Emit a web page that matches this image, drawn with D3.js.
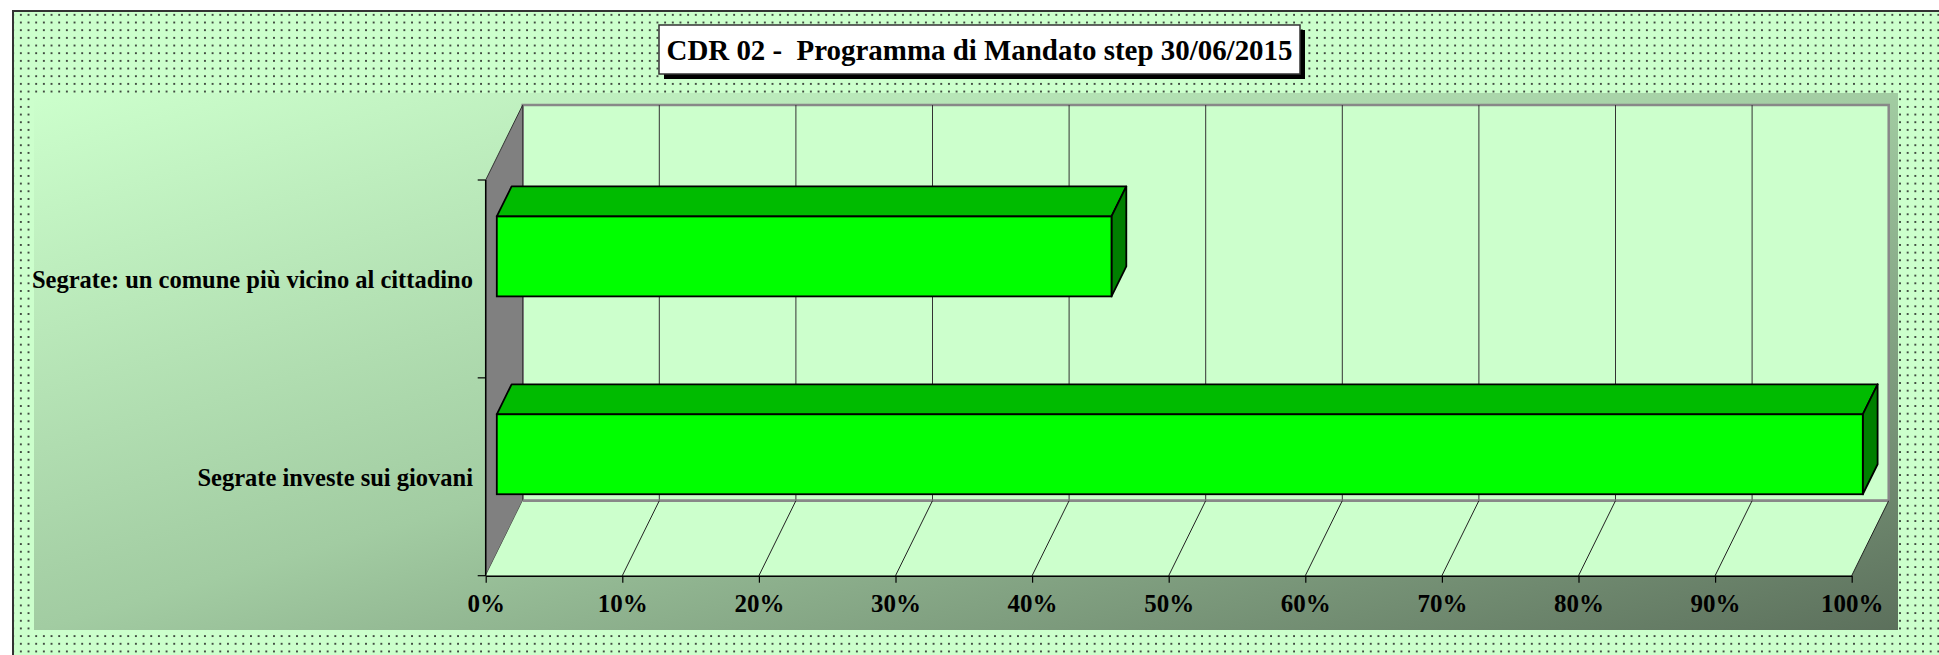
<!DOCTYPE html>
<html>
<head>
<meta charset="utf-8">
<script src="https://cdn.jsdelivr.net/npm/d3@7"></script>
<style>
  body { margin: 0; background: #fff; }
  text { font-family: "Liberation Serif", "Times New Roman", serif; font-weight: bold; }
</style>
</head>
<body>
<div id="chart"></div>
<script>
// data
var titleText = "CDR 02 -  Programma di Mandato step 30/06/2015";
var categories = ["Segrate investe sui giovani", "Segrate: un comune più vicino al cittadino"];
var values = [100, 45];
var tickValues = [0, 10, 20, 30, 40, 50, 60, 70, 80, 90, 100];

var svgWidth = 1939;
var svgHeight = 655;

// 3d depth offset of the floor / walls
var DX = 37, DY = -75;
// bar sits between these depth fractions
var barFront = 0.3, barBack = 0.7;

var svg = d3.select("#chart")
  .append("svg")
  .attr("width", svgWidth)
  .attr("height", svgHeight);

var defs = svg.append("defs");

// dotted background
var pat = defs.append("pattern")
  .attr("id", "dots")
  .attr("patternUnits", "userSpaceOnUse")
  .attr("x", 17).attr("y", 11)
  .attr("width", 7.67).attr("height", 7.67);
pat.append("rect").attr("width", 7.67).attr("height", 7.67).attr("fill", "#ccffcc");
pat.append("rect").attr("x", 3).attr("y", 3).attr("width", 1.7).attr("height", 1.7).attr("fill", "#1a1a1a");

var grad = defs.append("linearGradient")
  .attr("id", "plotGrad")
  .attr("x1", 0).attr("y1", 0).attr("x2", 1).attr("y2", 1);
grad.append("stop").attr("offset", 0).attr("stop-color", "#ccffcc");
grad.append("stop").attr("offset", 0.5).attr("stop-color", "#a2cca2");
grad.append("stop").attr("offset", 1).attr("stop-color", "#5c705c");

// chart area
svg.append("rect")
  .attr("x", 13).attr("y", 11)
  .attr("width", 1960).attr("height", 680)
  .attr("fill", "url(#dots)")
  .attr("stroke", "#333")
  .attr("stroke-width", 2);

// plot area
svg.append("rect")
  .attr("x", 34).attr("y", 93)
  .attr("width", 1864).attr("height", 537)
  .attr("fill", "url(#plotGrad)");

// scales
var x = d3.scaleLinear()
  .domain([0, 100])
  .range([485.7, 1851.7]);

var y = d3.scaleBand()
  .domain(categories)
  .range([575.7, 180])
  .paddingInner(0.596)
  .paddingOuter(0.298);

var y0 = y.range()[0], y1 = y.range()[1];

// back wall
svg.append("rect")
  .attr("x", x(0) + DX)
  .attr("y", y1 + DY)
  .attr("width", x(100) - x(0))
  .attr("height", y0 - y1)
  .attr("fill", "#ccffcc")
  .attr("stroke", "#888")
  .attr("stroke-width", 2.5);

svg.append("g")
  .selectAll("line")
  .data(tickValues.slice(1, -1))
  .enter()
  .append("line")
  .attr("x1", d => x(d) + DX)
  .attr("x2", d => x(d) + DX)
  .attr("y1", y1 + DY)
  .attr("y2", y0 + DY)
  .attr("stroke", "#333")
  .attr("stroke-width", 1);

// side wall
svg.append("polygon")
  .attr("points", [[x(0), y1], [x(0) + DX, y1 + DY], [x(0) + DX, y0 + DY], [x(0), y0]].join(" "))
  .attr("fill", "#808080")
  .attr("stroke", "#333")
  .attr("stroke-width", 1);

// floor
svg.append("polygon")
  .attr("points", [[x(0), y0], [x(100), y0], [x(100) + DX, y0 + DY], [x(0) + DX, y0 + DY]].join(" "))
  .attr("fill", "#ccffcc");

svg.append("line")
  .attr("x1", x(0) + DX).attr("x2", x(100) + DX)
  .attr("y1", y0 + DY).attr("y2", y0 + DY)
  .attr("stroke", "#888")
  .attr("stroke-width", 2.5);

svg.append("g")
  .selectAll("line")
  .data(tickValues.slice(1))
  .enter()
  .append("line")
  .attr("x1", d => x(d))
  .attr("x2", d => x(d) + DX)
  .attr("y1", y0)
  .attr("y2", y0 + DY)
  .attr("stroke", "#222")
  .attr("stroke-width", 1);

// x axis
var xAxis = d3.axisBottom(x)
  .tickValues(tickValues)
  .tickFormat(d => d + "%")
  .tickSize(7)
  .tickSizeOuter(0)
  .tickPadding(12);

var xg = svg.append("g")
  .attr("transform", `translate(0, ${y0})`)
  .call(xAxis);
xg.select(".domain").attr("stroke", "#000").attr("stroke-width", 1.5);
xg.selectAll(".tick line").attr("stroke", "#000").attr("stroke-width", 1.2);
xg.selectAll(".tick text")
  .attr("font-size", 25)
  .attr("font-family", "Liberation Serif, Times New Roman, serif")
  .attr("font-weight", "bold")
  .attr("fill", "#000");

// y axis line and boundary ticks
svg.append("line")
  .attr("x1", x(0)).attr("x2", x(0))
  .attr("y1", y1).attr("y2", y0)
  .attr("stroke", "#000")
  .attr("stroke-width", 1.5);

svg.append("g")
  .selectAll("line")
  .data(d3.range(categories.length + 1))
  .enter()
  .append("line")
  .attr("x1", x(0) - 8)
  .attr("x2", x(0))
  .attr("y1", i => y0 - i * y.step())
  .attr("y2", i => y0 - i * y.step())
  .attr("stroke", "#000")
  .attr("stroke-width", 1.2);

// bars
var barData = categories.map((c, i) => ({ cat: c, value: values[i] }));
var fdx = barFront * DX, fdy = barFront * DY;
var ddx = (barBack - barFront) * DX, ddy = (barBack - barFront) * DY;

var bars = svg.append("g")
  .selectAll("g")
  .data(barData)
  .enter()
  .append("g");

// top face
bars.append("polygon")
  .attr("points", d => {
    var bx0 = x(0) + fdx, bx1 = x(d.value) + fdx, by = y(d.cat) + fdy;
    return [[bx0, by], [bx1, by], [bx1 + ddx, by + ddy], [bx0 + ddx, by + ddy]].join(" ");
  })
  .attr("fill", "#00bb00")
  .attr("stroke", "#000")
  .attr("stroke-width", 1.8)
  .attr("stroke-linejoin", "round");

// right face
bars.append("polygon")
  .attr("points", d => {
    var bx1 = x(d.value) + fdx, by = y(d.cat) + fdy, h = y.bandwidth();
    return [[bx1, by], [bx1 + ddx, by + ddy], [bx1 + ddx, by + h + ddy], [bx1, by + h]].join(" ");
  })
  .attr("fill", "#007f00")
  .attr("stroke", "#000")
  .attr("stroke-width", 1.8)
  .attr("stroke-linejoin", "round");

// front face
bars.append("rect")
  .attr("x", x(0) + fdx)
  .attr("y", d => y(d.cat) + fdy)
  .attr("width", d => x(d.value) - x(0))
  .attr("height", y.bandwidth())
  .attr("fill", "#00ff00")
  .attr("stroke", "#000")
  .attr("stroke-width", 1.8);

// category labels
svg.append("g")
  .selectAll("text")
  .data(categories)
  .enter()
  .append("text")
  .attr("x", 473)
  .attr("y", d => y(d) + y.bandwidth() / 2)
  .attr("dy", "0.36em")
  .attr("text-anchor", "end")
  .attr("font-size", 24.5)
  .attr("fill", "#000")
  .text(d => d);

// title box
svg.append("rect")
  .attr("x", 664).attr("y", 30)
  .attr("width", 641).attr("height", 49)
  .attr("fill", "#000");
svg.append("rect")
  .attr("x", 659).attr("y", 25)
  .attr("width", 641).attr("height", 49)
  .attr("fill", "#fff")
  .attr("stroke", "#333")
  .attr("stroke-width", 1.5);
svg.append("text")
  .attr("x", 979.5)
  .attr("y", 60)
  .attr("text-anchor", "middle")
  .attr("font-size", 30)
  .attr("textLength", 626)
  .attr("lengthAdjust", "spacingAndGlyphs")
  .style("white-space", "pre")
  .attr("fill", "#000")
  .text(titleText);
</script>
</body>
</html>
